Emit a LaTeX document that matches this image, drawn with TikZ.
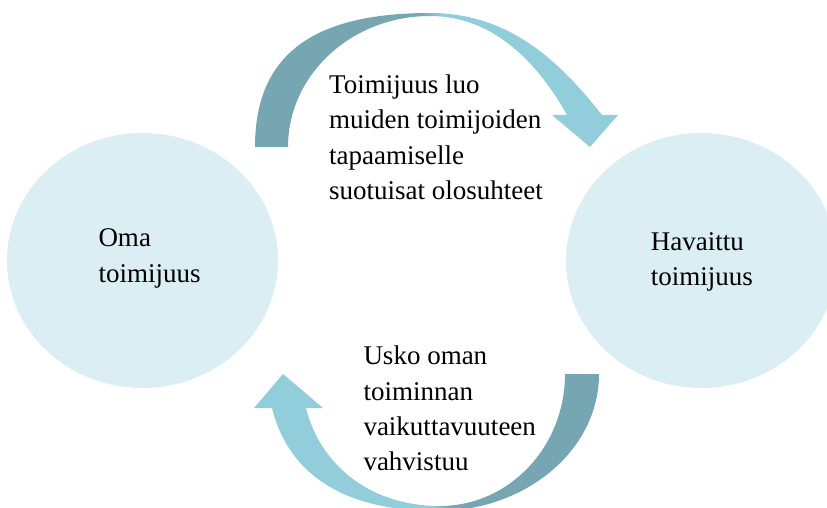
\documentclass[tikz,border=0pt]{standalone}
\usepackage{fontspec}
\setmainfont{Liberation Serif}
\usetikzlibrary{shapes.geometric}

\definecolor{circfill}{RGB}{218,238,243}
\definecolor{arcdark}{RGB}{117,166,177}
\definecolor{arclight}{RGB}{146,205,220}

\begin{document}
\begin{tikzpicture}[x=1pt,y=-1pt,
  circ/.style={ellipse, fill=circfill, draw=none,
    minimum width=271pt, minimum height=255pt, inner sep=0pt},
  % multi-line labels are placed by the baseline of their last line
  lbl/.style={anchor=base west, align=left, inner sep=0pt,
    font=\fontsize{27}{35.4}\selectfont, text=black}]

\useasboundingbox (0,0) rectangle (827,508);
\clip (0,0) rectangle (827,508);

% the two agency circles
\node[circ] (oma) at (142.5,260.5) {};
\node[circ] (hav) at (701.5,260.5) {};

% upper curved arrow: dark on the left, light towards the head
\begin{scope}
  \clip (255,147) .. controls (255,56) and (311,13) .. (430,13)
        .. controls (510,13) and (560,62) .. (602,115)
        -- (618,115) -- (590,147) -- (552,115) -- (567,115)
        .. controls (535,58) and (490,16) .. (430,16)
        .. controls (351.6,16) and (288,74.7) .. (288,147) -- cycle;
  \fill[arcdark] (240,0) rectangle (420,160);
  \shade[left color=arcdark, right color=arclight] (420,0) rectangle (442,160);
  \fill[arclight] (442,0) rectangle (630,160);
\end{scope}

% lower curved arrow: dark on the right, light towards the head
\begin{scope}
  \clip (565,374) -- (599,374)
        .. controls (599,450) and (526,511) .. (437,511)
        .. controls (346,511) and (289,476) .. (272,408)
        -- (254,408) -- (283,374) -- (323,408) -- (306,408)
        .. controls (319,461) and (366,506) .. (440,506)
        .. controls (509,506) and (565,447) .. (565,374) -- cycle;
  \fill[arclight] (240,360) rectangle (430,520);
  \shade[left color=arclight, right color=arcdark] (430,360) rectangle (450,520);
  \fill[arcdark] (450,360) rectangle (620,520);
\end{scope}

% labels
\node[lbl] (omatxt) at (98.3,282) {Oma\\toimijuus};
\node[lbl] (havtxt) at (650.7,285.5) {Havaittu\\toimijuus};
\node[lbl] (toptxt) at (329,199.5) {Toimijuus luo\\muiden toimijoiden\\tapaamiselle\\suotuisat olosuhteet};
\node[lbl] (bottxt) at (363.3,470.8) {Usko oman\\toiminnan\\vaikuttavuuteen\\vahvistuu};
\end{tikzpicture}
\end{document}
